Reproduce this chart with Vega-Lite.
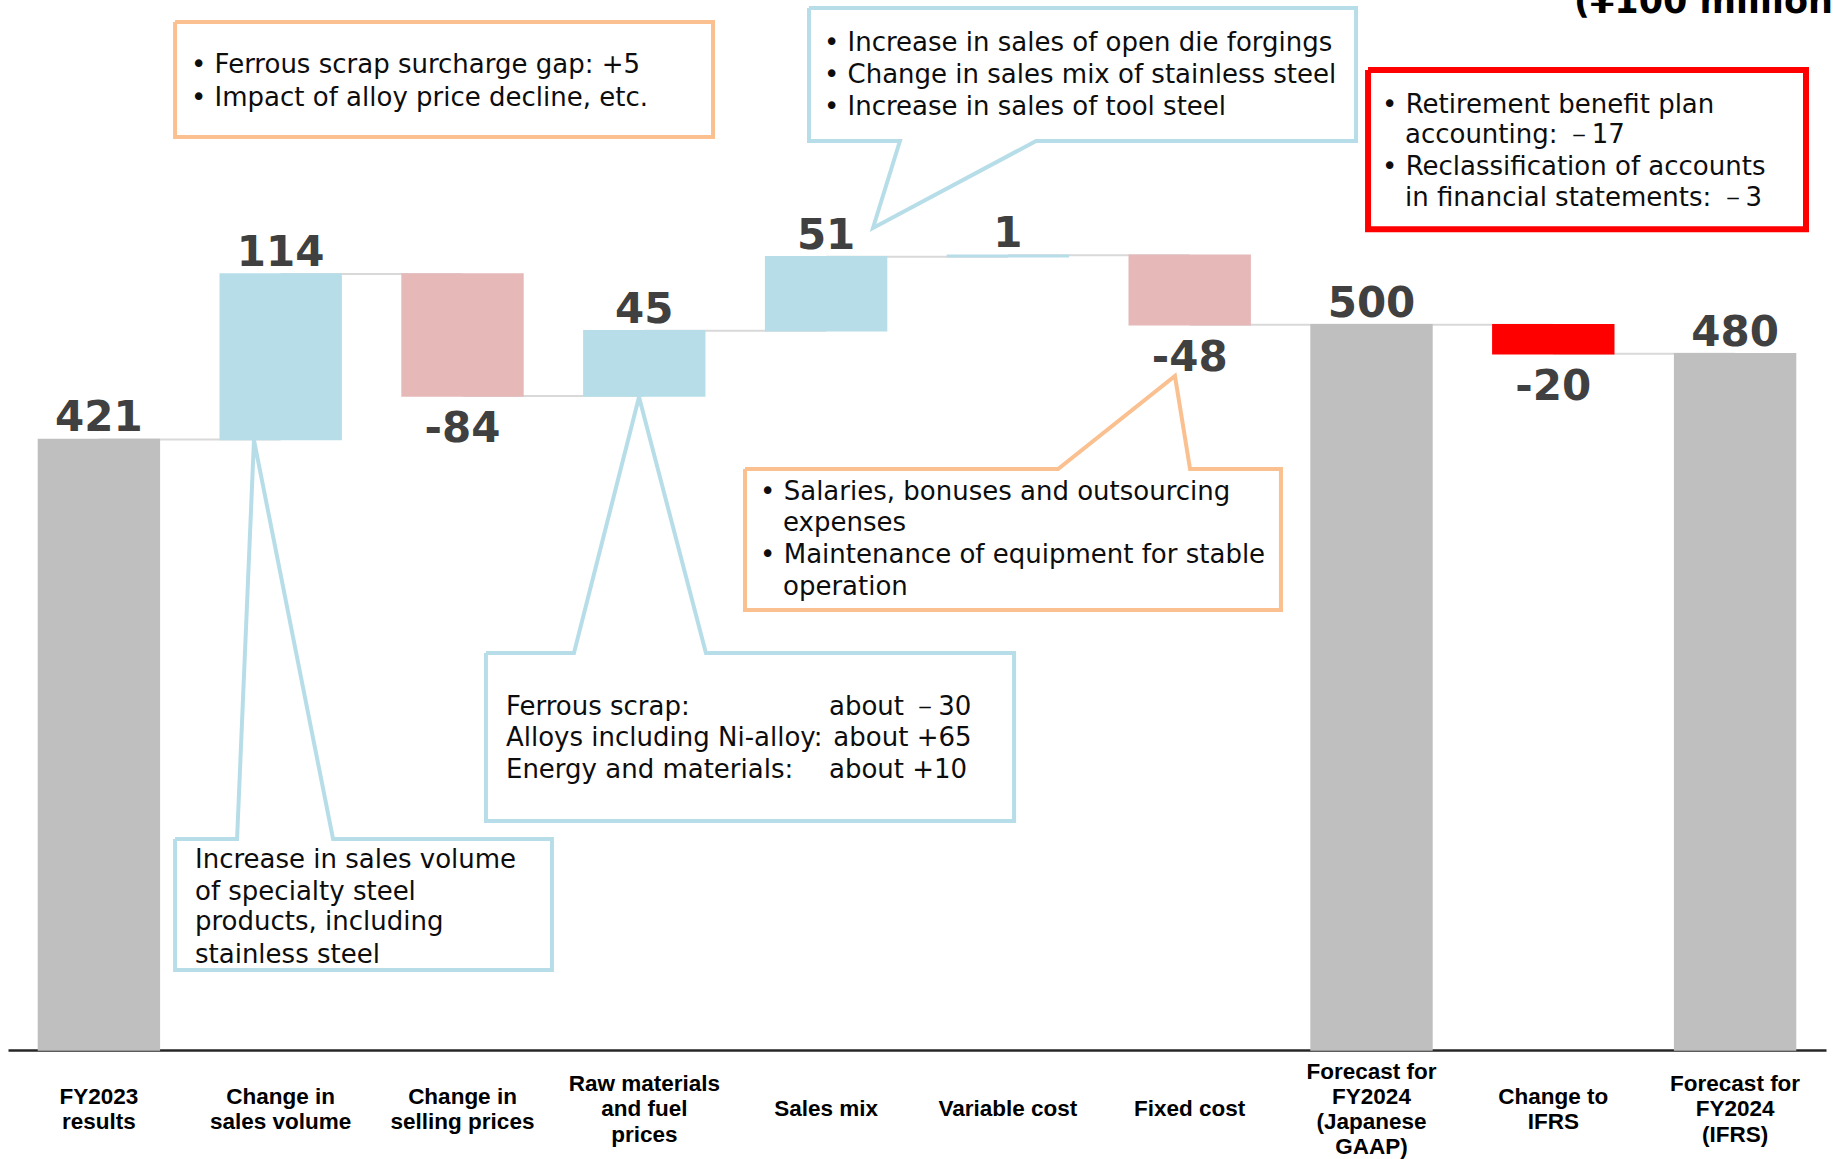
{
  "$schema": "https://vega.github.io/schema/vega-lite/v6.json",
  "width": 1818,
  "height": 1050,
  "autosize": {"type": "none"},
  "padding": {"left": 8, "right": 7, "top": 0, "bottom": 109},
  "background": "white",
  "view": {"stroke": null},
  "datasets": {
    "bars": [
      {"cat": "FY2023|results", "start": 0, "end": 421, "label": "421", "kind": "total"},
      {"cat": "Change in|sales volume", "start": 421, "end": 535, "label": "114", "kind": "up"},
      {"cat": "Change in|selling prices", "start": 535, "end": 451, "label": "-84", "kind": "down"},
      {"cat": "Raw materials|and fuel|prices", "start": 451, "end": 496, "label": "45", "kind": "up"},
      {"cat": "Sales mix", "start": 496, "end": 547, "label": "51", "kind": "up"},
      {"cat": "Variable cost", "start": 547, "end": 548, "label": "1", "kind": "up"},
      {"cat": "Fixed cost", "start": 548, "end": 500, "label": "-48", "kind": "down"},
      {"cat": "Forecast for|FY2024|(Japanese|GAAP)", "start": 0, "end": 500, "label": "500", "kind": "total"},
      {"cat": "Change to|IFRS", "start": 500, "end": 480, "label": "-20", "kind": "ifrs"},
      {"cat": "Forecast for|FY2024|(IFRS)", "start": 0, "end": 480, "label": "480", "kind": "total"}
    ],
    "links": [
      {"from": "FY2023|results", "to": "Change in|sales volume", "level": 421},
      {"from": "Change in|sales volume", "to": "Change in|selling prices", "level": 535},
      {"from": "Change in|selling prices", "to": "Raw materials|and fuel|prices", "level": 451},
      {"from": "Raw materials|and fuel|prices", "to": "Sales mix", "level": 496},
      {"from": "Sales mix", "to": "Variable cost", "level": 547},
      {"from": "Variable cost", "to": "Fixed cost", "level": 548},
      {"from": "Fixed cost", "to": "Forecast for|FY2024|(Japanese|GAAP)", "level": 500},
      {"from": "Forecast for|FY2024|(Japanese|GAAP)", "to": "Change to|IFRS", "level": 500},
      {"from": "Change to|IFRS", "to": "Forecast for|FY2024|(IFRS)", "level": 480}
    ],
    "shapes": [
      {"id": "c1", "tone": "orange", "k": 0, "u": 0.919, "v": 708.8},
      {"id": "c1", "tone": "orange", "k": 1, "u": 3.878, "v": 708.8},
      {"id": "c1", "tone": "orange", "k": 2, "u": 3.878, "v": 629.5},
      {"id": "c1", "tone": "orange", "k": 3, "u": 0.919, "v": 629.5},
      {"id": "c1", "tone": "orange", "k": 4, "u": 0.919, "v": 708.8},
      {"id": "c2", "tone": "blue", "k": 0, "u": 4.406, "v": 718.5},
      {"id": "c2", "tone": "blue", "k": 1, "u": 7.415, "v": 718.5},
      {"id": "c2", "tone": "blue", "k": 2, "u": 7.415, "v": 626.8},
      {"id": "c2", "tone": "blue", "k": 3, "u": 5.655, "v": 626.8},
      {"id": "c2", "tone": "blue", "k": 4, "u": 4.758, "v": 566.8},
      {"id": "c2", "tone": "blue", "k": 5, "u": 4.906, "v": 626.8},
      {"id": "c2", "tone": "blue", "k": 6, "u": 4.406, "v": 626.8},
      {"id": "c2", "tone": "blue", "k": 7, "u": 4.406, "v": 718.5},
      {"id": "c3", "tone": "red", "k": 0, "u": 7.481, "v": 675.7},
      {"id": "c3", "tone": "red", "k": 1, "u": 9.890, "v": 675.7},
      {"id": "c3", "tone": "red", "k": 2, "u": 9.890, "v": 566.0},
      {"id": "c3", "tone": "red", "k": 3, "u": 7.481, "v": 566.0},
      {"id": "c3", "tone": "red", "k": 4, "u": 7.481, "v": 675.7},
      {"id": "c4", "tone": "orange", "k": 0, "u": 4.054, "v": 400.6},
      {"id": "c4", "tone": "orange", "k": 1, "u": 5.776, "v": 400.6},
      {"id": "c4", "tone": "orange", "k": 2, "u": 6.419, "v": 464.7},
      {"id": "c4", "tone": "orange", "k": 3, "u": 6.502, "v": 400.6},
      {"id": "c4", "tone": "orange", "k": 4, "u": 7.002, "v": 400.6},
      {"id": "c4", "tone": "orange", "k": 5, "u": 7.002, "v": 303.4},
      {"id": "c4", "tone": "orange", "k": 6, "u": 4.054, "v": 303.4},
      {"id": "c4", "tone": "orange", "k": 7, "u": 4.054, "v": 400.6},
      {"id": "c5", "tone": "blue", "k": 0, "u": 2.629, "v": 273.7},
      {"id": "c5", "tone": "blue", "k": 1, "u": 3.113, "v": 273.7},
      {"id": "c5", "tone": "blue", "k": 2, "u": 3.471, "v": 450.3},
      {"id": "c5", "tone": "blue", "k": 3, "u": 3.839, "v": 273.7},
      {"id": "c5", "tone": "blue", "k": 4, "u": 5.534, "v": 273.7},
      {"id": "c5", "tone": "blue", "k": 5, "u": 5.534, "v": 157.9},
      {"id": "c5", "tone": "blue", "k": 6, "u": 2.629, "v": 157.9},
      {"id": "c5", "tone": "blue", "k": 7, "u": 2.629, "v": 273.7},
      {"id": "c6", "tone": "blue", "k": 0, "u": 0.919, "v": 145.5},
      {"id": "c6", "tone": "blue", "k": 1, "u": 1.260, "v": 145.5},
      {"id": "c6", "tone": "blue", "k": 2, "u": 1.353, "v": 420.6},
      {"id": "c6", "tone": "blue", "k": 3, "u": 1.788, "v": 145.5},
      {"id": "c6", "tone": "blue", "k": 4, "u": 2.992, "v": 145.5},
      {"id": "c6", "tone": "blue", "k": 5, "u": 2.992, "v": 55.2},
      {"id": "c6", "tone": "blue", "k": 6, "u": 0.919, "v": 55.2},
      {"id": "c6", "tone": "blue", "k": 7, "u": 0.919, "v": 145.5}
    ],
    "notes": [
      {"u": 1.0066, "v": 679.2, "t": "• Ferrous scrap surcharge gap: +5"},
      {"u": 1.0066, "v": 656.4, "t": "• Impact of alloy price decline, etc."},
      {"u": 4.488, "v": 694.3, "t": "• Increase in sales of open die forgings"},
      {"u": 4.488, "v": 672.3, "t": "• Change in sales mix of stainless steel"},
      {"u": 4.488, "v": 650.2, "t": "• Increase in sales of tool steel"},
      {"u": 7.558, "v": 651.6, "t": "• Retirement benefit plan"},
      {"u": 7.684, "v": 630.9, "t": "accounting: －17"},
      {"u": 7.558, "v": 608.8, "t": "• Reclassification of accounts"},
      {"u": 7.684, "v": 587.5, "t": "in financial statements:  －3"},
      {"u": 4.137, "v": 384.7, "t": "• Salaries, bonuses and outsourcing"},
      {"u": 4.263, "v": 363.4, "t": "expenses"},
      {"u": 4.137, "v": 341.3, "t": "• Maintenance of equipment for stable"},
      {"u": 4.263, "v": 319.2, "t": "operation"},
      {"u": 2.739, "v": 236.5, "t": "Ferrous scrap:"},
      {"u": 4.516, "v": 236.5, "t": "about －30"},
      {"u": 2.739, "v": 215.1, "t": "Alloys including Ni-alloy:"},
      {"u": 4.540, "v": 215.1, "t": "about +65"},
      {"u": 2.739, "v": 193.1, "t": "Energy and materials:"},
      {"u": 4.516, "v": 193.1, "t": "about +10"},
      {"u": 1.0286, "v": 131.0, "t": "Increase in sales volume"},
      {"u": 1.0286, "v": 108.9, "t": "of specialty steel"},
      {"u": 1.0286, "v": 88.3, "t": "products, including"},
      {"u": 1.0286, "v": 65.5, "t": "stainless steel"}
    ],
    "head": [
      {"u": 8.614, "v": 715.0, "t": "(¥100 million)"}
    ]
  },
  "layer": [
    {
      "data": {"name": "links"},
      "mark": {"type": "rule", "color": "#D9D9D9", "strokeWidth": 2},
      "encoding": {
        "x": {"field": "from", "type": "nominal",
          "scale": {"domain": ["FY2023|results", "Change in|sales volume", "Change in|selling prices", "Raw materials|and fuel|prices", "Sales mix", "Variable cost", "Fixed cost", "Forecast for|FY2024|(Japanese|GAAP)", "Change to|IFRS", "Forecast for|FY2024|(IFRS)"], "paddingInner": 0.335, "paddingOuter": 0.1675},
          "axis": null},
        "x2": {"field": "to"},
        "y": {"field": "level", "type": "quantitative", "scale": {"domain": [0, 724], "nice": false}, "axis": null}
      }
    },
    {
      "data": {"name": "bars"},
      "mark": {"type": "bar", "strokeWidth": 1.5},
      "encoding": {
        "x": {"field": "cat", "type": "nominal",
          "scale": {"domain": ["FY2023|results", "Change in|sales volume", "Change in|selling prices", "Raw materials|and fuel|prices", "Sales mix", "Variable cost", "Fixed cost", "Forecast for|FY2024|(Japanese|GAAP)", "Change to|IFRS", "Forecast for|FY2024|(IFRS)"], "paddingInner": 0.335, "paddingOuter": 0.1675},
          "axis": {"title": null, "labelExpr": "split(substring('\u200b|\u200b|\u200b|', 0, 2 * (4 - length(split(datum.label, '|')))) + replace(datum.label, regexp('[|]', 'g'), '|\u200b|'), '|')", "labelAngle": 0, "labelBaseline": "middle", "labelPadding": 21, "tickSize": 0, "ticks": false, "labelFont": "Liberation Sans Narrow, Liberation Sans, sans-serif", "labelFontWeight": "bold", "labelFontSize": 22.5, "labelLineHeight": 12.65, "labelColor": "#000000", "labelLimit": 400, "domainColor": "#262626", "domainWidth": 2.5, "grid": false}},
        "y": {"field": "start", "type": "quantitative", "scale": {"domain": [0, 724], "nice": false}, "axis": null},
        "y2": {"field": "end"},
        "color": {"field": "kind", "type": "nominal", "scale": {"domain": ["total", "up", "down", "ifrs"], "range": ["#BFBFBF", "#B7DEE8", "#E6B9B8", "#FF0000"]}, "legend": null},
        "stroke": {"field": "kind", "type": "nominal", "scale": {"domain": ["total", "up", "down", "ifrs"], "range": ["#BFBFBF", "#B7DEE8", "#E6B9B8", "#FF0000"]}, "legend": null}
      }
    },
    {
      "data": {"name": "bars"},
      "transform": [{"filter": "datum.kind === 'total' || datum.kind === 'up'"}],
      "mark": {"type": "text", "font": "DejaVu Sans", "fontWeight": "bold", "fontSize": 42, "color": "#404040", "baseline": "alphabetic", "dy": -8},
      "encoding": {
        "x": {"field": "cat", "type": "nominal",
          "scale": {"domain": ["FY2023|results", "Change in|sales volume", "Change in|selling prices", "Raw materials|and fuel|prices", "Sales mix", "Variable cost", "Fixed cost", "Forecast for|FY2024|(Japanese|GAAP)", "Change to|IFRS", "Forecast for|FY2024|(IFRS)"], "paddingInner": 0.335, "paddingOuter": 0.1675},
          "axis": null},
        "y": {"field": "end", "type": "quantitative", "scale": {"domain": [0, 724], "nice": false}, "axis": null},
        "text": {"field": "label"}
      }
    },
    {
      "data": {"name": "bars"},
      "transform": [{"filter": "datum.kind === 'down' || datum.kind === 'ifrs'"}],
      "mark": {"type": "text", "font": "DejaVu Sans", "fontWeight": "bold", "fontSize": 42, "color": "#404040", "baseline": "alphabetic", "dy": 46},
      "encoding": {
        "x": {"field": "cat", "type": "nominal",
          "scale": {"domain": ["FY2023|results", "Change in|sales volume", "Change in|selling prices", "Raw materials|and fuel|prices", "Sales mix", "Variable cost", "Fixed cost", "Forecast for|FY2024|(Japanese|GAAP)", "Change to|IFRS", "Forecast for|FY2024|(IFRS)"], "paddingInner": 0.335, "paddingOuter": 0.1675},
          "axis": null},
        "y": {"field": "end", "type": "quantitative", "scale": {"domain": [0, 724], "nice": false}, "axis": null},
        "text": {"field": "label"}
      }
    },
    {
      "data": {"name": "shapes"},
      "transform": [{"filter": "datum.tone === 'blue'"}],
      "mark": {"type": "line", "color": "#B7DEE8", "strokeWidth": 4, "strokeJoin": "miter"},
      "encoding": {
        "x": {"field": "u", "type": "quantitative", "scale": {"domain": [0, 10], "nice": false, "zero": false}, "axis": null},
        "y": {"field": "v", "type": "quantitative", "scale": {"domain": [0, 724], "nice": false}, "axis": null},
        "detail": {"field": "id"},
        "order": {"field": "k"}
      }
    },
    {
      "data": {"name": "shapes"},
      "transform": [{"filter": "datum.tone === 'orange'"}],
      "mark": {"type": "line", "color": "#FAC090", "strokeWidth": 4, "strokeJoin": "miter"},
      "encoding": {
        "x": {"field": "u", "type": "quantitative", "scale": {"domain": [0, 10], "nice": false, "zero": false}, "axis": null},
        "y": {"field": "v", "type": "quantitative", "scale": {"domain": [0, 724], "nice": false}, "axis": null},
        "detail": {"field": "id"},
        "order": {"field": "k"}
      }
    },
    {
      "data": {"name": "shapes"},
      "transform": [{"filter": "datum.tone === 'red'"}],
      "mark": {"type": "line", "color": "#FF0000", "strokeWidth": 6, "strokeJoin": "miter"},
      "encoding": {
        "x": {"field": "u", "type": "quantitative", "scale": {"domain": [0, 10], "nice": false, "zero": false}, "axis": null},
        "y": {"field": "v", "type": "quantitative", "scale": {"domain": [0, 724], "nice": false}, "axis": null},
        "detail": {"field": "id"},
        "order": {"field": "k"}
      }
    },
    {
      "data": {"name": "notes"},
      "mark": {"type": "text", "font": "DejaVu Sans", "fontSize": 26, "color": "#0D0D0D", "align": "left", "baseline": "middle"},
      "encoding": {
        "x": {"field": "u", "type": "quantitative", "scale": {"domain": [0, 10], "nice": false, "zero": false}, "axis": null},
        "y": {"field": "v", "type": "quantitative", "scale": {"domain": [0, 724], "nice": false}, "axis": null},
        "text": {"field": "t"}
      }
    },
    {
      "data": {"name": "head"},
      "mark": {"type": "text", "font": "DejaVu Sans", "fontWeight": "bold", "fontSize": 35, "color": "#000000", "align": "left", "baseline": "alphabetic"},
      "encoding": {
        "x": {"field": "u", "type": "quantitative", "scale": {"domain": [0, 10], "nice": false, "zero": false}, "axis": null},
        "y": {"field": "v", "type": "quantitative", "scale": {"domain": [0, 724], "nice": false}, "axis": null},
        "text": {"field": "t"}
      }
    }
  ],
  "resolve": {"scale": {"x": "independent"}}
}
